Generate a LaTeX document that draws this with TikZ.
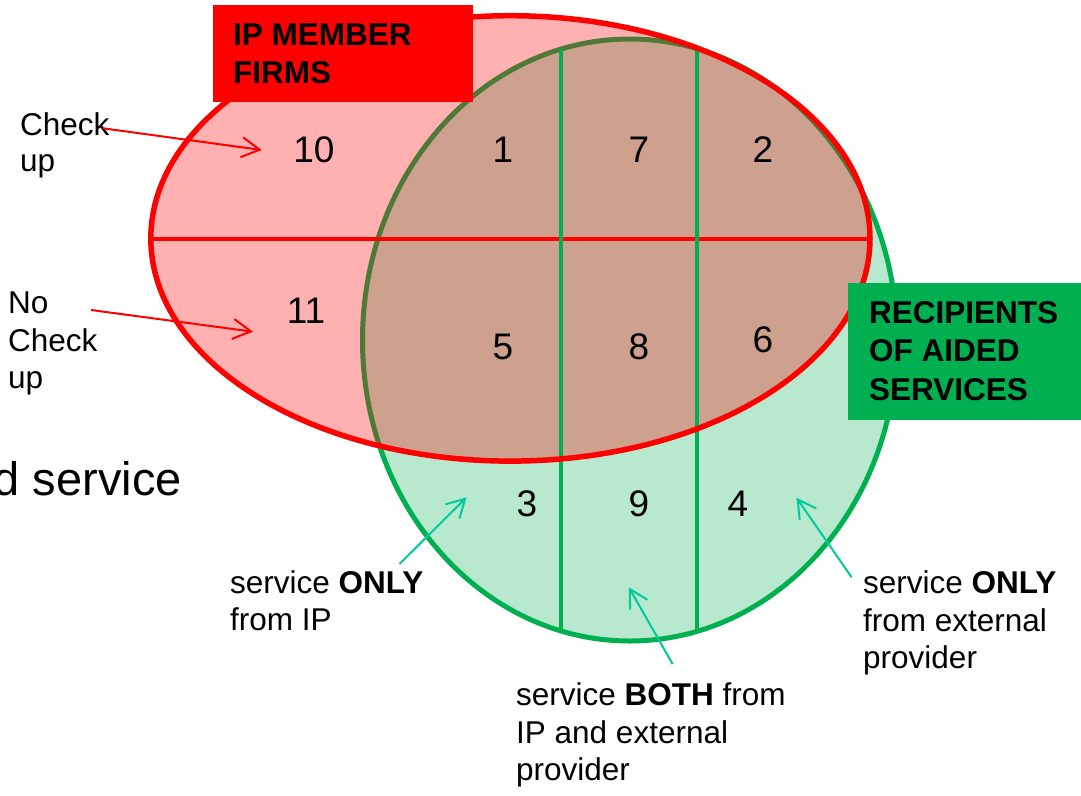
\documentclass[tikz,border=0pt]{standalone}
\usepackage{fontspec}
\setmainfont{Liberation Sans}
\usetikzlibrary{arrows.meta}
\definecolor{ipred}{RGB}{255,0,0}
\definecolor{aidgreen}{RGB}{0,176,80}
\definecolor{arrteal}{RGB}{0,204,153}
\begin{document}
\begin{tikzpicture}[x=1pt,y=-1pt,
  lbl/.style={font=\fontsize{31.5}{37}\selectfont, inner sep=0pt, anchor=base west},
  blbl/.style={lbl, font=\fontsize{31.5}{37}\selectfont\bfseries},
  num/.style={font=\fontsize{37}{44}\selectfont, inner sep=0pt, anchor=center},
  redarr/.style={draw=ipred, line width=2pt, -{Straight Barb[length=18pt,width=20pt]}},
  tealarr/.style={draw=arrteal, line width=2pt, -{Straight Barb[length=18pt,width=20pt]}},
  greenell/.style={x radius=267.2pt, y radius=301pt},
  redell/.style={x radius=359.6pt, y radius=222.7pt}
]
\useasboundingbox (0,0) rectangle (1081,795);
\coordinate (gc) at (629.7,340);
\coordinate (rc) at (510.4,238.4);
% green set
\fill[aidgreen, fill opacity=0.28] (gc) ellipse [greenell];
\draw[aidgreen, line width=5pt] (gc) ellipse [greenell];
% red set
\fill[ipred, fill opacity=0.31] (rc) ellipse [redell];
\begin{scope}
  \clip (rc) ellipse [redell];
  \draw[ipred, line width=4pt] (0,239) -- (1081,239);
\end{scope}
\begin{scope}
  \clip (gc) ellipse [greenell];
  \draw[aidgreen, line width=4pt] (560.5,0) -- (560.5,795);
  \draw[aidgreen, line width=4pt] (696.5,0) -- (696.5,795);
\end{scope}
\draw[ipred, line width=5.5pt] (rc) ellipse [redell];
% title boxes
\node (ipbox) [fill=ipred, inner sep=0pt, minimum width=260pt, minimum height=97pt, anchor=north west] at (213,5) {};
\node (ipt1) [blbl] at (233,45.7) {IP MEMBER};
\node (ipt2) [blbl] at (233,83.3) {FIRMS};
\node (grbox) [fill=aidgreen, inner sep=0pt, minimum width=233pt, minimum height=136.5pt, anchor=north west] at (848,283) {};
\node (gt1) [blbl] at (869,323.3) {RECIPIENTS};
\node (gt2) [blbl] at (869,361.7) {OF AIDED};
\node (gt3) [blbl] at (869,400) {SERVICES};
% numbers
\node (n10) [num] at (314,150) {10};
\node (n1) [num] at (503,150) {1};
\node (n7) [num] at (639,150) {7};
\node (n2) [num] at (763,150) {2};
\node (n11) [num] at (306,311) {11};
\node (n5) [num] at (503,347) {5};
\node (n8) [num] at (639,347) {8};
\node (n6) [num] at (763,340) {6};
\node (n3) [num] at (527,504) {3};
\node (n9) [num] at (639,504) {9};
\node (n4) [num] at (738,504) {4};
% side labels
\node (cu1) [lbl] at (20,135) {Check};
\node (cu2) [lbl] at (20,171.7) {up};
\node (nc1) [lbl] at (8,313.3) {No};
\node (nc2) [lbl] at (8,351.7) {Check};
\node (nc3) [lbl] at (8,388.5) {up};
\node (ds) [font=\fontsize{47}{56}\selectfont, inner sep=0pt, anchor=base east] at (182,495) {d service};
\node (so1) [lbl] at (230,593.3) {service \textbf{ONLY}};
\node (so2) [lbl] at (230,630) {from IP};
\node (se1) [lbl] at (863,593.3) {service \textbf{ONLY}};
\node (se2) [lbl] at (863,631) {from external};
\node (se3) [lbl] at (863,668.5) {provider};
\node (sb1) [lbl] at (516,705) {service \textbf{BOTH} from};
\node (sb2) [lbl] at (516,743) {IP and external};
\node (sb3) [lbl] at (516,780.5) {provider};
% arrows
\coordinate (a1s) at (103,128.3); \coordinate (a1e) at (261.7,150);
\coordinate (a2s) at (91,310); \coordinate (a2e) at (253,331.7);
\coordinate (a3s) at (399.5,564); \coordinate (a3e) at (466.6,497.3);
\coordinate (a4s) at (672.6,664); \coordinate (a4e) at (628.8,587.3);
\coordinate (a5s) at (851.6,577.3); \coordinate (a5e) at (796.5,497.7);
\draw[redarr] (a1s) -- (a1e);
\draw[redarr] (a2s) -- (a2e);
\draw[tealarr] (a3s) -- (a3e);
\draw[tealarr] (a4s) -- (a4e);
\draw[tealarr] (a5s) -- (a5e);
\end{tikzpicture}
\end{document}
